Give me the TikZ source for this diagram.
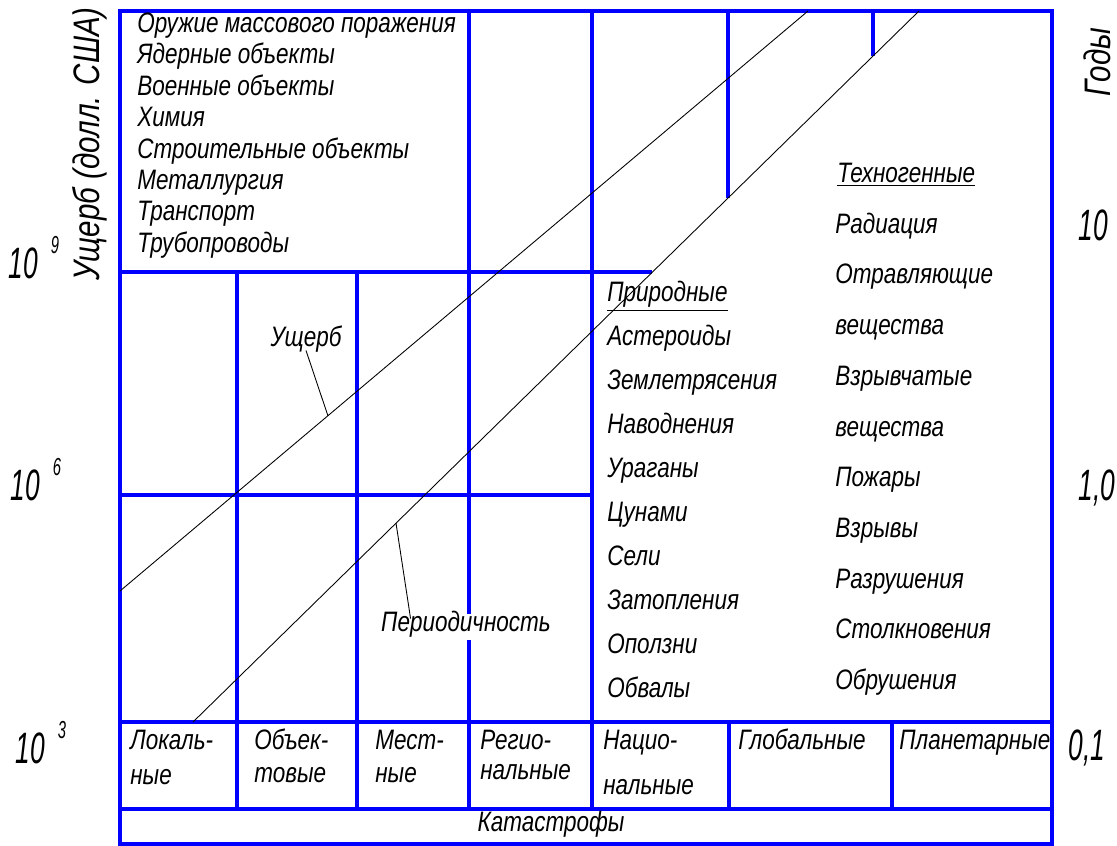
\documentclass[tikz,border=0pt]{standalone}
\usepackage{fontspec}
\setmainfont{Liberation Sans}[FakeStretch=0.8]
\newfontfamily\numfont{Liberation Sans}[FakeStretch=0.6]
\usetikzlibrary{calc}

\newcommand{\tenpow}[1]{10\hspace{0.3em}\raisebox{0.55em}{\fontsize{14}{16}\selectfont #1}}

\begin{document}
\begin{tikzpicture}[
    x=0.02cm, y=-0.02cm,
    grid/.style={draw=blue, line width=2.2pt},
    curve/.style={draw=black, line width=0.5pt},
    item/.style={anchor=west, inner sep=0pt, text height=0.72em, text depth=0.2em,
                 font=\fontsize{16}{19}\selectfont\itshape},
    axis/.style={inner sep=0pt, font=\fontsize{21}{24}\selectfont\itshape},
    num/.style={anchor=base west, inner sep=0pt,
                font=\numfont\fontsize{25}{28}\selectfont\itshape}
  ]
  \useasboundingbox (0,0) rectangle (1117,846);

  % Frame and cells
  \draw[grid] (120,11) rectangle (1052,844);
  \draw[grid] (120,722) -- (1052,722);
  \draw[grid] (120,809) -- (1052,809);
  \draw[grid] (120,272) -- (652,272);
  \draw[grid] (120,495) -- (592,495);
  \draw[grid] (237,272) -- (237,809);
  \draw[grid] (357,272) -- (357,809);
  \draw[grid] (469,11) -- (469,809);
  \draw[grid] (592,11) -- (592,809);
  \draw[grid] (728,11) -- (728,198);
  \draw[grid] (873,11) -- (873,56);
  \draw[grid] (729,722) -- (729,809);
  \draw[grid] (892,722) -- (892,809);

  % Trend lines
  \coordinate (lossA) at (120,591);
  \coordinate (lossB) at (808,11);
  \coordinate (perA) at (193,722);
  \coordinate (perB) at (919,11);
  \draw[curve] (lossA) -- (lossB);
  \draw[curve] (perA) -- (perB);
  \coordinate (lossPt) at (328,416);
  \coordinate (perPt) at (396,523);

  \node[item, anchor=center] (lossLbl) at (306,342) {Ущерб};
  \node[item, anchor=center, fill=white, inner sep=3pt] (perLbl) at (466,627) {Периодичность};
  \draw[curve] (lossLbl.south) -- (lossPt);
  \draw[curve] ([xshift=0.7cm, yshift=-3pt]perLbl.north west) -- (perPt);

  % Man-made objects
  \foreach \t [count=\i from 0] in {Оружие массового поражения, Ядерные объекты,
      Военные объекты, Химия, Строительные объекты, Металлургия, Транспорт,
      Трубопроводы}
    \node[item] (obj\i) at (137, 28+\i*31.4) {\t};

  % Natural hazards
  \node[item] (nat0) at (607,297) {\underline{Природные}};
  \foreach \t [count=\i from 1] in {Астероиды, Землетрясения, Наводнения, Ураганы,
      Цунами, Сели, Затопления, Оползни, Обвалы}
    \node[item] (nat\i) at (607, 297+\i*44) {\t};

  % Technogenic hazards
  \node[item] (tech0) at (837,178) {\underline{Техногенные}};
  \foreach \t [count=\i from 1] in {Радиация, Отравляющие, вещества, Взрывчатые,
      вещества, Пожары, Взрывы, Разрушения, Столкновения, Обрушения}
    \node[item] (tech\i) at (835, 178+\i*50.7) {\t};

  % Scale of catastrophes
  \foreach \x/\a/\b/\y [count=\i] in {130/Локаль-/ные/780, 254/Объек-/товые/778,
      375/Мест-/ные/778, 480/Регио-/нальные/775, 603/Нацио-/нальные/790}
  {
    \node[item] (scaleA\i) at (\x,745) {\a};
    \node[item] (scaleB\i) at (\x,\y) {\b};
  }
  \node[item] (scaleG) at (738,745) {Глобальные};
  \node[item] (scaleP) at (899,745) {Планетарные};
  \node[item, anchor=center] (cat) at (551,827) {Катастрофы};

  % Axes
  \node[axis, rotate=90] (yLoss) at (90,144) {Ущерб (долл. США)};
  \node[axis, rotate=90] (yYears) at (1097,62) {Годы};
  \node[num] (l9) at (8,278) {\tenpow{9}};
  \node[num] (l6) at (10,500) {\tenpow{6}};
  \node[num] (l3) at (15,763) {\tenpow{3}};
  \node[num] (r10) at (1078,240) {10};
  \node[num] (r1) at (1078,500) {1,0};
  \node[num] (r01) at (1068,760) {0,1};
\end{tikzpicture}
\end{document}
